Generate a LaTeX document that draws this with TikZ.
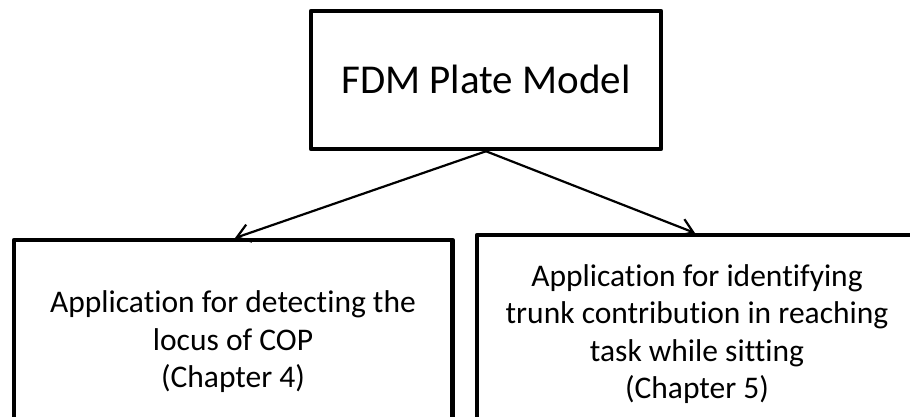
\documentclass[tikz,border=0pt]{standalone}
\usepackage{fontspec}
\setmainfont{Carlito}[Ligatures={NoCommon}]
\usetikzlibrary{arrows.meta}
\begin{document}
\begin{tikzpicture}[x=1pt,y=-1pt,
  box/.style={draw=black,line width=4.5pt,line join=round,inner sep=0pt},
  frame/.style={line width=4.5pt,line join=round},
  title/.style={font=\fontsize{41}{50}\selectfont,inner sep=0pt},
  body/.style={font=\fontsize{31.5}{37.5}\selectfont,align=center,inner sep=0pt},
  link/.style={line width=2.2pt,-{Straight Barb[length=13pt,width=18pt,line width=2.2pt]}}]
  \useasboundingbox[fill=white] (0,0) rectangle (910,416);
  % upper box
  \node[box,minimum width=350pt,minimum height=138pt] (model) at (486,80) {};
  \node[title,anchor=base] (modeltxt) at (486,93) {FDM Plate Model};
  % lower boxes, running past the page edge: only their visible sides are stroked
  \node[inner sep=0pt,minimum width=438pt,minimum height=200pt,anchor=north west] (cop) at (14,240) {};
  \node[inner sep=0pt,minimum width=433pt,minimum height=200pt,anchor=north west] (trunk) at (477,235) {};
  \draw[frame] (cop.south west) -- (cop.north west) -- (cop.north east) -- (cop.south east);
  \draw[frame] (trunk.south west) -- (trunk.north west) -- (trunk.north east);
  \node[body] (coptxt) at (233,342) {Application for detecting the\\locus of COP\\(Chapter 4)};
  \node[body] (trunktxt) at (697,334) {Application for identifying\\trunk contribution in reaching\\task while sitting\\(Chapter 5)};
  % arrow ends on the lower boxes
  \coordinate (copin) at (235,238);
  \coordinate (trunkin) at (695,233);
  \draw[link] (model.south) -- (copin);
  \draw[link] (model.south) -- (trunkin);
\end{tikzpicture}
\end{document}
